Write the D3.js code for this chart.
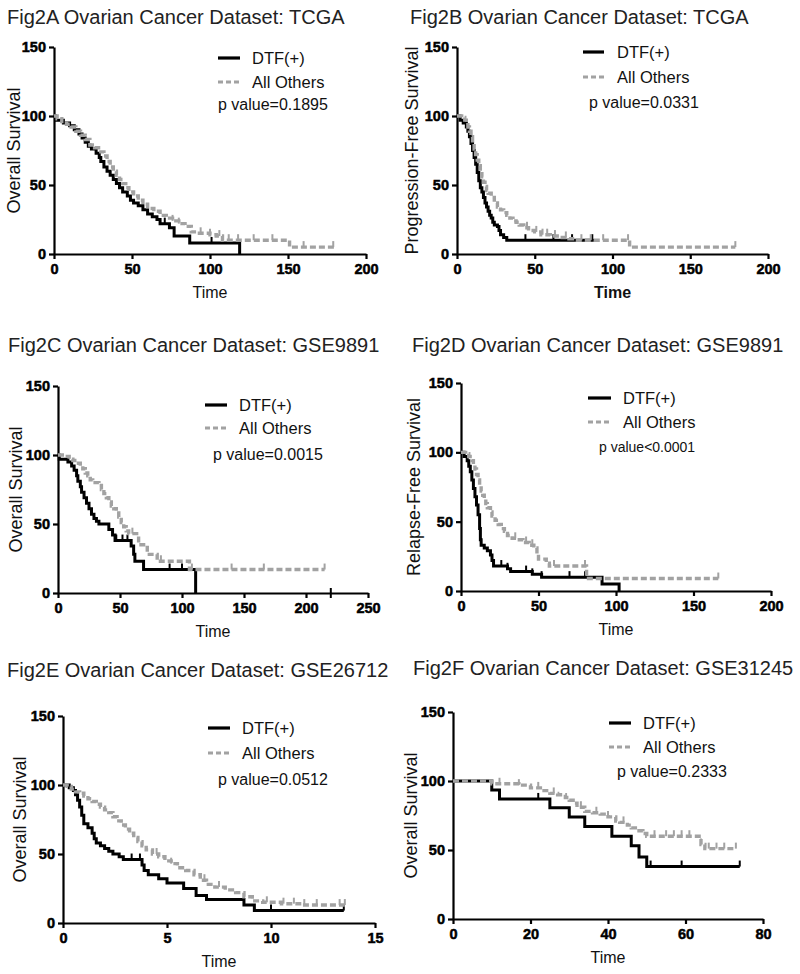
<!DOCTYPE html>
<html><head><meta charset="utf-8">
<script src="https://cdn.jsdelivr.net/npm/d3@7"></script>
<style>
body{margin:0;background:#fff}
svg{display:block}
text{font-family:"Liberation Sans",Arial,sans-serif}
.tick text{font-weight:bold}
</style>
</head><body>
<svg id="c" width="800" height="974"></svg>
<script>
// ---------- text ----------
const titles = [
  "Fig2A Ovarian Cancer Dataset: TCGA",
  "Fig2B Ovarian Cancer Dataset: TCGA",
  "Fig2C Ovarian Cancer Dataset: GSE9891",
  "Fig2D Ovarian Cancer Dataset: GSE9891",
  "Fig2E Ovarian Cancer Dataset: GSE26712",
  "Fig2F Ovarian Cancer Dataset: GSE31245"
];
const yLabels = ["Overall Survival","Progression-Free Survival","Overall Survival","Relapse-Free Survival","Overall Survival","Overall Survival"];
const xLabel = "Time";
const seriesNames = ["DTF(+)","All Others"];
const pValues = ["p value=0.1895","p value=0.0331","p value=0.0015","p value<0.0001","p value=0.0512","p value=0.2333"];

// ---------- axes ----------
const xMaxes = [200,200,250,200,15,80];
const xTickValues = [
  [0,50,100,150,200],[0,50,100,150,200],[0,50,100,150,200,250],
  [0,50,100,150,200],[0,5,10,15],[0,20,40,60,80]
];
const yMax = 150;
const yTickValues = [0,50,100,150];

// ---------- series: [time, survival after that time] ----------
const aDtf = [[0,100],[1,97],[6,95],[10,93],[13,90],[16,87],[18,84],[20,81],[22,78],[24,76],[27,73],[29,70],[30,67],[32,63],[34,60],[36,57],[38,54],[40,51],[42,48],[44,45],[47,42],[49,39],[51,37],[54,35],[57,32],[60,29],[63,27],[66,25],[68,22],[74,19],[77,13],[87,8],[119,0]];
const aOth = [[0,100],[2,98],[5,96],[8,94],[11,92],[14,89],[17,86],[20,83],[23,79],[26,77],[30,74],[32,71],[34,67],[36,63],[38,60],[40,57],[42,54],[44,51],[46,48],[48,45],[51,42],[54,39],[57,36],[60,33],[64,31],[68,28],[72,26],[76,24],[80,22],[84,20],[88,16],[92,15],[100,14],[104,13],[108,10],[151,5],[180,5]];
const bDtf = [[0,100],[2,97],[4,95],[6,92],[7,89],[8,85],[9,80],[10,75],[11,70],[12,65],[13,59],[14,53],[15,48],[16,45],[17,41],[18,37],[19,34],[20,31],[21,28],[22,26],[23,23],[24,21],[26,20],[27,17],[28,14],[30,12],[32,10],[88,10]];
const bOth = [[0,100],[3,99],[5,97],[6,95],[7,92],[8,89],[9,85],[10,80],[11,76],[12,72],[13,68],[14,64],[15,60],[16,56],[17,52],[18,49],[19,46],[20,44],[22,41],[24,37],[26,34],[28,32],[30,30],[32,28],[34,26],[36,24],[38,23],[40,21],[43,19],[46,17],[50,16],[54,14],[60,13],[66,12],[72,11],[76,10],[111,5],[179,5]];
const cDtf = [[0,100],[1,97],[8,95],[11,92],[13,89],[15,85],[16,81],[18,77],[19,73],[21,69],[23,65],[25,61],[27,57],[29,54],[31,52],[33,50],[41,46],[44,42],[46,38],[59,34],[61,28],[62,23],[69,17],[111,0]];
const cOth = [[0,100],[5,99],[9,97],[12,96],[15,94],[18,92],[20,90],[22,87],[24,85],[26,82],[28,80],[33,78],[35,75],[37,72],[39,69],[41,66],[43,63],[45,61],[47,58],[49,55],[51,51],[53,48],[55,45],[57,43],[65,35],[72,28],[80,23],[106,17],[215,17]];
const dDtf = [[0,100],[2,97],[4,94],[5,90],[6,86],[7,80],[8,74],[9,68],[10,62],[11,55],[12,45],[12.5,37],[13,33],[15,31],[17,29],[19,26],[20,22],[21,18],[30,16],[32,14],[46,12],[52,10],[91,5],[102,0]];
const dOth = [[0,100],[3,99],[5,97],[7,94],[8,91],[9,88],[10,84],[11,80],[12,76],[13,72],[14,69],[15,66],[16,63],[17,60],[19,57],[20,54],[22,51],[24,48],[26,45],[28,43],[30,40],[33,38],[36,37],[40,35],[44,33],[47,31],[49,27],[50,23],[55,20],[57,18],[81,9],[166,9]];
const eDtf = [[0,100],[0.3,98],[0.5,96],[0.6,93],[0.7,89],[0.8,84],[0.9,78],[1.0,72],[1.2,69],[1.4,65],[1.5,61],[1.6,58],[1.8,56],[2.0,54],[2.2,52],[2.4,50],[2.7,48],[2.9,46],[3.8,42],[3.9,38],[4.1,35],[4.6,32],[5.0,29],[5.8,25],[6.4,20],[6.9,17],[8.7,13],[9.2,9],[13.5,9]];
const eOth = [[0,100],[0.2,99],[0.4,97],[0.6,95],[0.8,94],[1.0,92],[1.2,90],[1.4,88],[1.6,86],[1.8,84],[2.0,82],[2.2,80],[2.4,77],[2.6,74],[2.8,71],[3.0,68],[3.2,65],[3.4,62],[3.6,59],[3.8,56],[4.0,53],[4.3,50],[4.6,48],[4.9,45],[5.2,43],[5.5,40],[5.9,38],[6.3,35],[6.6,31],[6.9,28],[7.3,26],[7.8,24],[8.3,22],[8.7,19],[9.1,16],[9.6,15],[10.5,14],[11.5,13],[13.55,13]];
const fDtf = [[0,100],[10,93.5],[12,87],[25,80.7],[30,74],[34,67],[41,60],[46,53],[48,45],[50,38],[74,38]];
const fOth = [[0,100],[10,98],[17,97],[20,95],[23,93],[25,91],[27,90],[29,88],[30,86],[31,84],[32,81],[34,78],[36,77],[38,76],[40,74],[42,71],[43,70],[45,68],[46,66],[48,64],[49,62],[50,60],[64,54],[65,51],[73,51]];

// ---------- censor times ----------
const aDtfCens = [71,101];
const aOthCens = [76,80,94,100,106,112,118,128,140,160,179];
const bDtfCens = [44,62,74,87];
const bOthCens = [45,51,55,58,63,70,80,86,94,110,179];
const cDtfCens = [47,52,56,90,100];
const cOthCens = [60,83,108,140,166,215];
const cAxisMarks = [220];
const dDtfCens = [26,30,42,46,52,70,80];
const dOthCens = [35,42,46,60,80,166];
const eDtfCens = [3.3,3.7,10,13.5];
const eOthCens = [4.5,5.2,6.8,7.5,9.8,10.6,11.1,11.6,12.2,13.3,13.55];
const fDtfCens = [22,51,59,74];
const fOthCens = [12,17,22,26,33,37,40,44,52,55,57,59,61,64,66,68,70,73];

const dtfSeries = [aDtf,bDtf,cDtf,dDtf,eDtf,fDtf];
const othSeries = [aOth,bOth,cOth,dOth,eOth,fOth];
const dtfCens = [aDtfCens,bDtfCens,cDtfCens,dDtfCens,eDtfCens,fDtfCens];
const othCens = [aOthCens,bOthCens,cOthCens,dOthCens,eOthCens,fOthCens];
const axisMarks = [[],[],cAxisMarks,[],[],[]];

// ---------- layout (pixels) ----------
const layout = [
  {l:54, r:366, t:47, b:254, tx:7,  ty:24,  yl:20,  xly:298, lx1:218, lx2:240, ltx:252, ly1:58,  ly2:82,  px:218, py:110, pfs:16, xBold:false},
  {l:457,r:768, t:47, b:254, tx:410,ty:24,  yl:418, xly:298, lx1:583, lx2:604, ltx:617, ly1:52,  ly2:77,  px:589, py:108, pfs:16, xBold:true},
  {l:58, r:368, t:386,b:593, tx:8,  ty:352, yl:22,  xly:637, lx1:205, lx2:227, ltx:239, ly1:405, ly2:428, px:213, py:460, pfs:16, xBold:false},
  {l:461,r:771, t:383,b:591, tx:412,ty:352, yl:420, xly:635, lx1:588, lx2:611, ltx:623, ly1:398, ly2:422, px:599, py:452, pfs:14, xBold:false},
  {l:63, r:375, t:716,b:923, tx:7,  ty:677, yl:26,  xly:967, lx1:208, lx2:230, ltx:242, ly1:728, ly2:753, px:218, py:785, pfs:16, xBold:false},
  {l:453,r:763, t:712,b:919, tx:413,ty:675, yl:417, xly:963, lx1:609, lx2:631, ltx:643, ly1:723, ly2:747, px:617, py:777, pfs:16, xBold:false}
];

const GRAY = "#a2a2a2";
const svg = d3.select("#c");

layout.forEach((L, i) => {
  const g = svg.append("g");
  const x = d3.scaleLinear().domain([0, xMaxes[i]]).range([L.l, L.r]);
  const y = d3.scaleLinear().domain([0, yMax]).range([L.b, L.t]);

  // title
  g.append("text").attr("x", L.tx).attr("y", L.ty)
    .attr("font-size", 20).attr("fill", "#222").text(titles[i]);

  // axes
  const ya = g.append("g").attr("transform", `translate(${L.l},0)`)
    .call(d3.axisLeft(y).tickValues(yTickValues).tickSize(5).tickSizeOuter(0).tickPadding(3));
  const xa = g.append("g").attr("transform", `translate(0,${L.b})`)
    .call(d3.axisBottom(x).tickValues(xTickValues[i]).tickSize(5).tickSizeOuter(0).tickPadding(5));
  [ya, xa].forEach(a => {
    a.attr("font-family", '"Liberation Sans",Arial,sans-serif').attr("font-size", 14).attr("font-weight", "bold");
    a.select(".domain").attr("stroke", "#000").attr("stroke-width", 2.2);
    a.selectAll(".tick line").attr("stroke", "#000").attr("stroke-width", 2.2);
    a.selectAll(".tick text").attr("fill", "#000").attr("stroke", "#000").attr("stroke-width", 0.5)
      .style("font-weight", "bold").style("font-size", "14.5px");
  });

  // axis labels
  g.append("text").attr("transform", `translate(${L.yl},${(L.t + L.b) / 2}) rotate(-90)`)
    .attr("text-anchor", "middle").attr("font-size", 18).attr("fill", "#111").text(yLabels[i]);
  g.append("text").attr("x", (L.l + L.r) / 2).attr("y", L.xly)
    .attr("text-anchor", "middle").attr("font-size", 16)
    .style("font-weight", L.xBold ? "bold" : "normal").attr("fill", "#111").text(xLabel);

  // curves
  const line = d3.line().x(d => x(d[0])).y(d => y(d[1])).curve(d3.curveStepAfter);
  const bis = d3.bisector(d => d[0]).right;
  const valAt = (data, t) => data[Math.max(0, bis(data, t) - 1)][1];

  g.append("path").datum(dtfSeries[i]).attr("d", line)
    .attr("fill", "none").attr("stroke", "#000").attr("stroke-width", 3);
  g.selectAll(null).data(dtfCens[i]).join("line")
    .attr("x1", t => x(t)).attr("x2", t => x(t))
    .attr("y1", t => y(valAt(dtfSeries[i], t)) - 6).attr("y2", t => y(valAt(dtfSeries[i], t)))
    .attr("stroke", "#000").attr("stroke-width", 2);

  g.append("path").datum(othSeries[i]).attr("d", line)
    .attr("fill", "none").attr("stroke", GRAY).attr("stroke-width", 3.4)
    .attr("stroke-dasharray", "6,3");
  g.selectAll(null).data(othCens[i]).join("line")
    .attr("x1", t => x(t)).attr("x2", t => x(t))
    .attr("y1", t => y(valAt(othSeries[i], t)) - 6).attr("y2", t => y(valAt(othSeries[i], t)))
    .attr("stroke", GRAY).attr("stroke-width", 2);

  g.selectAll(null).data(axisMarks[i]).join("line")
    .attr("x1", t => x(t)).attr("x2", t => x(t))
    .attr("y1", L.b - 5).attr("y2", L.b + 5)
    .attr("stroke", "#000").attr("stroke-width", 2);

  // legend
  g.append("line").attr("x1", L.lx1).attr("x2", L.lx2).attr("y1", L.ly1).attr("y2", L.ly1)
    .attr("stroke", "#000").attr("stroke-width", 3.2);
  g.append("line").attr("x1", L.lx1).attr("x2", L.lx2).attr("y1", L.ly2).attr("y2", L.ly2)
    .attr("stroke", GRAY).attr("stroke-width", 3.2).attr("stroke-dasharray", "5,3");
  g.append("text").attr("x", L.ltx).attr("y", L.ly1 + 6).attr("font-size", 16.5).attr("fill", "#111").text(seriesNames[0]);
  g.append("text").attr("x", L.ltx).attr("y", L.ly2 + 6).attr("font-size", 16.5).attr("fill", "#111").text(seriesNames[1]);
  g.append("text").attr("x", L.px).attr("y", L.py).attr("font-size", L.pfs).attr("fill", "#111").text(pValues[i]);
});
</script>
</body></html>
